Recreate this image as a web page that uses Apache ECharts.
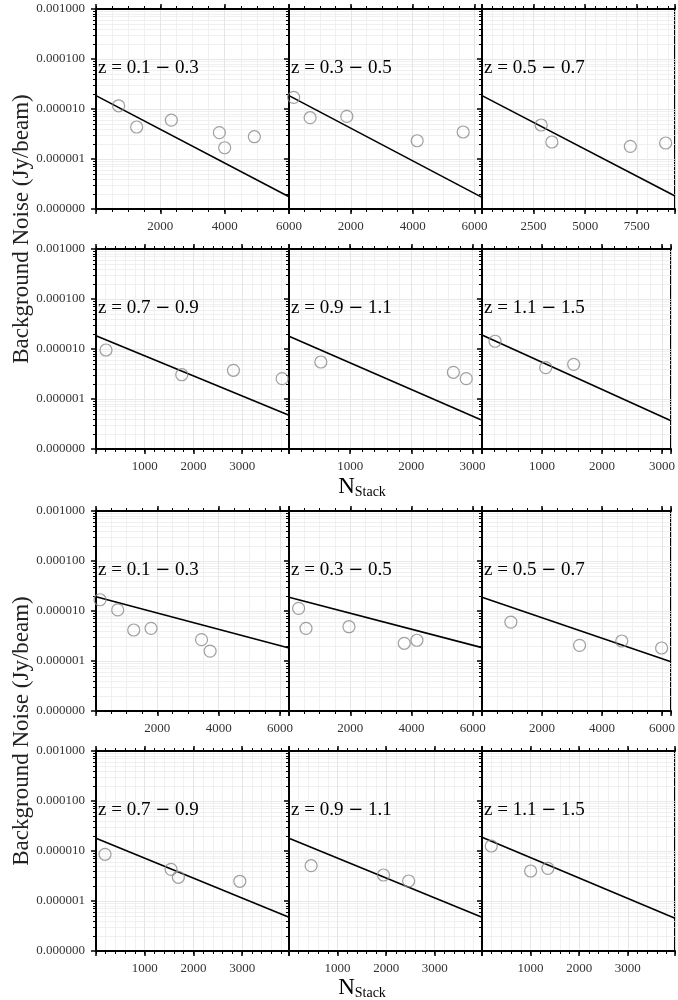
<!DOCTYPE html>
<html><head><meta charset="utf-8">
<script src="https://cdn.jsdelivr.net/npm/echarts@6/dist/echarts.min.js"></script>
<style>html,body{margin:0;padding:0;background:#fff}#c{width:678px;height:1000px}</style>
</head><body><div id="c"></div>
<script>
// ---- DATA ----
const zLow  = ['0.1','0.3','0.5','0.7','0.9','1.1'];
const zHigh = ['0.3','0.5','0.7','0.9','1.1','1.5'];

// upper figure (rows 1-2)
const nStack_A1 = [703, 1263, 2342, 3835, 4000, 4923];
const noise_A1  = [1.16e-5, 4.37e-6, 6.0e-6, 3.36e-6, 1.68e-6, 2.79e-6];
const nStack_A2 = [150, 683, 1869, 4144, 5631];
const noise_A2  = [1.71e-5, 6.7e-6, 7.1e-6, 2.32e-6, 3.47e-6];
const nStack_A3 = [2867, 3385, 7186, 8897];
const noise_A3  = [4.79e-6, 2.19e-6, 1.79e-6, 2.09e-6];
const nStack_A4 = [205, 1760, 2820, 3819];
const noise_A4  = [9.55e-6, 3.06e-6, 3.75e-6, 2.55e-6];
const nStack_A5 = [521, 2688, 2898];
const noise_A5  = [5.5e-6, 3.42e-6, 2.55e-6];
const nStack_A6 = [217, 1062, 1528];
const noise_A6  = [1.43e-5, 4.23e-6, 4.94e-6];
// lower figure (rows 3-4)
const nStack_B1 = [131, 708, 1230, 1794, 3439, 3719];
const noise_B1  = [1.68e-5, 1.05e-5, 4.17e-6, 4.5e-6, 2.67e-6, 1.58e-6];
const nStack_B2 = [314, 555, 1957, 3762, 4176];
const noise_B2  = [1.13e-5, 4.5e-6, 4.85e-6, 2.26e-6, 2.6e-6];
const nStack_B3 = [962, 3252, 4658, 5987];
const noise_B3  = [6.0e-6, 2.06e-6, 2.51e-6, 1.82e-6];
const nStack_B4 = [185, 1540, 1690, 2951];
const noise_B4  = [8.59e-6, 4.3e-6, 2.98e-6, 2.48e-6];
const nStack_B5 = [455, 1945, 2463];
const noise_B5  = [5.08e-6, 3.31e-6, 2.51e-6];
const nStack_B6 = [191, 1000, 1355];
const noise_B6  = [1.26e-5, 3.98e-6, 4.5e-6];

// x-axis extents, major tick intervals and minor tick steps per panel (A1..A6, B1..B6)
const xMin = [0,0,0,0,0,0, 0,0,0,0,0,0];
const xMax = [6000,6240,9350,3960,3156,3150, 6290,6300,6300,3960,3973,3970];
const xMajor = [2000,2000,2500,1000,1000,1000, 2000,2000,2000,1000,1000,1000];
const xMinorStep = [500,500,500,200,200,200, 500,500,500,200,200,200];
// fitted line: noise at xMin and at xMax
const fitStart = [1.85e-5,1.85e-5,1.85e-5,1.85e-5,1.8e-5,1.9e-5, 1.93e-5,1.88e-5,1.88e-5,1.8e-5,1.8e-5,1.88e-5];
const fitEnd   = [1.76e-7,1.71e-7,1.82e-7,4.72e-7,3.75e-7,3.68e-7, 1.82e-6,1.85e-6,9.7e-7,4.72e-7,4.72e-7,4.5e-7];

const panelN = [nStack_A1,nStack_A2,nStack_A3,nStack_A4,nStack_A5,nStack_A6,nStack_B1,nStack_B2,nStack_B3,nStack_B4,nStack_B5,nStack_B6];
const panelNoise = [noise_A1,noise_A2,noise_A3,noise_A4,noise_A5,noise_A6,noise_B1,noise_B2,noise_B3,noise_B4,noise_B5,noise_B6];

// ---- LAYOUT ----
const colLeft = [96, 289, 482];
const rowTop = [9, 249, 511, 751];
const W = 193, H = 200;
const SERIF = "'Liberation Serif','DejaVu Serif',serif";

const grid = [], xAxis = [], yAxis = [], series = [], graphic = [];
for (let i = 0; i < 12; i++) {
  const r = Math.floor(i / 3), c = i % 3;
  grid.push({left: colLeft[c], top: rowTop[r], width: W, height: H, show: true,
    borderColor: '#000', borderWidth: 2, containLabel: false});
  const iv = xMajor[i];
  const base = {type: 'value', gridIndex: i, min: xMin[i], max: xMax[i]};
  ['bottom', 'top'].forEach(pos => {
    // minor ticks / minor grid
    xAxis.push(Object.assign({}, base, {position: pos, interval: xMinorStep[i],
      axisLine: {show: false},
      axisTick: {show: true, inside: false, length: 3, lineStyle: {color: '#000', width: 1}},
      axisLabel: {show: false},
      splitLine: {show: pos === 'bottom', lineStyle: {color: '#ececec', width: 0.8}}}));
    // major ticks / labels / major grid
    xAxis.push(Object.assign({}, base, {position: pos, interval: iv,
      axisLine: {show: true, onZero: false, lineStyle: {color: '#000', width: 2}},
      axisTick: {show: true, inside: false, length: 5, lineStyle: {color: '#000', width: 1.5}},
      axisLabel: {show: pos === 'bottom', margin: 11, color: '#333', fontFamily: SERIF, fontSize: 13,
        formatter: v => (v === 0 || Math.abs(v % iv) > 1e-6) ? '' : String(v)},
      splitLine: {show: pos === 'bottom', lineStyle: {color: '#e2e2e2', width: 0.8}}}));
  });
  const mainX = xAxis.length - 3; // bottom major axis of this panel
  yAxis.push({type: 'log', logBase: 10, gridIndex: i, min: 1e-7, max: 1e-3, interval: 1,
    axisLine: {show: true, lineStyle: {color: '#000', width: 2}},
    axisTick: {show: true, inside: false, length: 5, lineStyle: {color: '#000', width: 1.5}},
    minorTick: {show: true, splitNumber: 9, length: 3, lineStyle: {color: '#000', width: 1}},
    axisLabel: {show: c === 0, margin: 11, color: '#333', fontFamily: SERIF, fontSize: 13,
      formatter: v => Number(v).toFixed(6)},
    splitLine: {show: true, lineStyle: {color: '#e2e2e2', width: 0.8}},
    minorSplitLine: {show: true, lineStyle: {color: '#ececec', width: 0.8}}});
  series.push({type: 'line', xAxisIndex: mainX, yAxisIndex: i, symbol: 'none', silent: true,
    lineStyle: {color: '#000', width: 1.6}, z: 3,
    data: [[xMin[i], fitStart[i]], [xMax[i], fitEnd[i]]]});
  series.push({type: 'scatter', xAxisIndex: mainX, yAxisIndex: i, symbol: 'circle', symbolSize: 12,
    itemStyle: {color: 'rgba(0,0,0,0)', borderColor: '#888', borderWidth: 1.2}, z: 4,
    data: panelN[i].map((n, k) => [n, panelNoise[i][k]])});
  const k = i % 6;
  graphic.push({type: 'text', left: colLeft[c] + 2, top: rowTop[r] + 50, z: 100,
    style: {text: '{t|z = ' + zLow[k] + ' }{m|−}{t| ' + zHigh[k] + '}',
      rich: {t: {fontSize: 19, fontFamily: SERIF, color: '#333'},
             m: {fontSize: 18, fontFamily: "'DejaVu Serif',serif", color: '#333'}}}});
}
// axis titles
[229, 731].forEach(cy => {
  graphic.push({type: 'text', x: 22, y: cy, rotation: Math.PI / 2,
    style: {text: 'Background Noise (Jy/beam)', font: "23px " + SERIF, fill: '#222',
      textAlign: 'center', textVerticalAlign: 'middle'}});
});
[487, 988].forEach(cy => {
  graphic.push({type: 'text', x: 362, y: cy,
    style: {rich: {n: {fontSize: 23, fontFamily: SERIF, color: '#222'},
                   s: {fontSize: 14, fontFamily: SERIF, color: '#222', padding: [11, 0, 0, 0]}},
      text: '{n|N}{s|Stack}', textAlign: 'center', textVerticalAlign: 'middle'}});
});

const chart = echarts.init(document.getElementById('c'), null, {renderer: 'canvas'});
chart.setOption({animation: false, backgroundColor: '#fff', grid, xAxis, yAxis, series, graphic});
</script></body></html>
